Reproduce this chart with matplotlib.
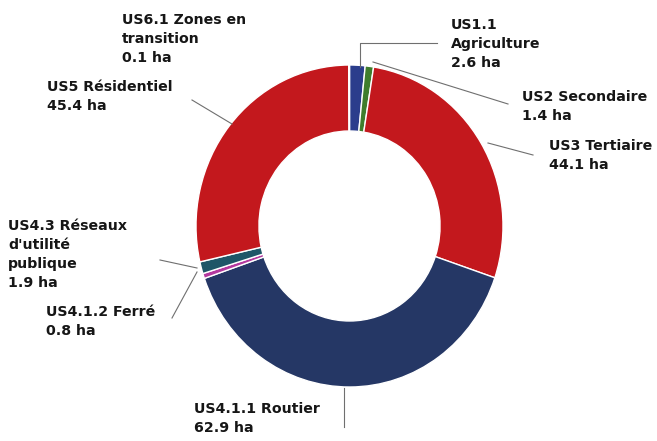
import matplotlib
matplotlib.use("Agg")
import matplotlib.pyplot as plt
from matplotlib.lines import Line2D

# --- Data (areas in ha), clockwise from the top ---
categories = ["US1.1 Agriculture", "US2 Secondaire", "US3 Tertiaire",
              "US4.1.1 Routier", "US4.1.2 Ferré", "US4.3 Réseaux d'utilité publique",
              "US5 Résidentiel", "US6.1 Zones en transition"]
areas = [2.6, 1.4, 44.1, 62.9, 0.8, 1.9, 45.4, 0.1]
label_texts = ["US1.1\nAgriculture\n2.6 ha",
               "US2 Secondaire\n1.4 ha",
               "US3 Tertiaire\n44.1 ha",
               "US4.1.1 Routier\n62.9 ha",
               "US4.1.2 Ferré\n0.8 ha",
               "US4.3 Réseaux\nd'utilité\npublique\n1.9 ha",
               "US5 Résidentiel\n45.4 ha",
               "US6.1 Zones en\ntransition\n0.1 ha"]

colors = ["#2b3d8c", "#3f7d2c", "#c3181d", "#253765",
          "#b3389e", "#1f5668", "#c3181d", "#d8d8d8"]

W, H = 657, 441
fig = plt.figure(figsize=(W / 100, H / 100), dpi=100)

# donut axes placed over the pixel box of the ring (slightly taller than wide, as in the scan)
left, top, right, bottom = 196, 65, 503, 387
ax = fig.add_axes([left / W, 1 - bottom / H, (right - left) / W, (bottom - top) / H])
ax.pie(areas, colors=colors, startangle=90, counterclock=False,
       wedgeprops=dict(width=0.41, edgecolor="white", linewidth=1.0))
ax.set_aspect("auto")
ax.set_xlim(-1, 1)
ax.set_ylim(-1, 1)
ax.axis("off")

# label positions (pixel coords of text top-left)
label_pos = [(451, 18), (522, 90), (549, 139), (194, 402),
             (46, 305), (8, 219), (47, 80), (122, 13)]
for txt, (px, py) in zip(label_texts, label_pos):
    fig.text(px / W, 1 - py / H, txt, ha="left", va="top", fontsize=10.2,
             fontweight="bold", color="#161616", linespacing=1.45)

# leader lines (pixel coords)
leaders = [
    [(360, 67), (360, 43), (437, 43)],
    [(373, 62), (508, 104)],
    [(488, 143), (533, 155)],
    [(344, 388), (344, 427)],
    [(172, 318), (197, 272)],
    [(160, 260), (197, 268)],
    [(192, 100), (232, 124)],
]
for pts in leaders:
    xs = [p[0] / W for p in pts]
    ys = [1 - p[1] / H for p in pts]
    fig.add_artist(Line2D(xs, ys, transform=fig.transFigure, color="#6f6f6f", linewidth=0.8))

fig.savefig("out.png", dpi=100)
